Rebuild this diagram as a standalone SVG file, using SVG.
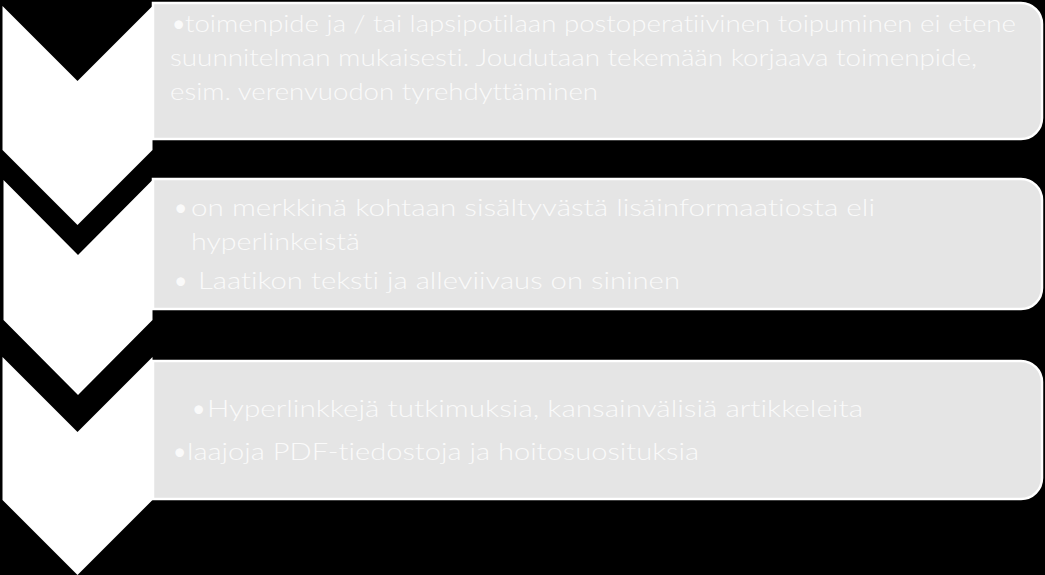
<svg xmlns="http://www.w3.org/2000/svg" width="1045" height="575" viewBox="0 0 1045 575">
  <style>
    .chev { fill: #ffffff; }
    .box { fill: #e5e5e5; stroke: #ffffff; stroke-width: 2.5; }
    .t { font-family: Lato, "Open Sans", "DejaVu Sans", sans-serif; font-weight: 300; fill: #fafafa; font-variant-ligatures: none; font-feature-settings: "liga" 0, "dlig" 0; }
    .b1 { font-size: 22.5px; }
    .b2 { font-size: 24px; }
    .b3 { font-size: 23.5px; }
    .bul { font-size: 23px; font-weight: 400; }
  </style>
  <rect x="0" y="0" width="1045" height="575" fill="#000000"/>

  <g id="step1">
    <path class="box" d="M153,3 H1021 A21,21 0 0 1 1042,24 V118 A21,21 0 0 1 1021,139 H153 Z"/>
    <polygon class="chev" points="2.5,6 77.5,81 152.5,6 152.5,150 77.5,225 2.5,150"/>
    <text class="t bul" x="172" y="32">•</text>
    <text class="t b1" x="185" y="32" textLength="831" lengthAdjust="spacingAndGlyphs">toimenpide ja / tai lapsipotilaan postoperatiivinen toipuminen ei etene</text>
    <text class="t b1" x="170" y="66" textLength="807" lengthAdjust="spacingAndGlyphs">suunnitelman mukaisesti. Joudutaan tekemään korjaava toimenpide,</text>
    <text class="t b1" x="170" y="100" textLength="428" lengthAdjust="spacingAndGlyphs">esim. verenvuodon tyrehdyttäminen</text>
  </g>

  <g id="step2">
    <path class="box" d="M153,179 H1021 A21,21 0 0 1 1042,200 V288 A21,21 0 0 1 1021,309 H153 Z"/>
    <polygon class="chev" points="3.5,180 78,255 152.5,180 152.5,320 78,395 3.5,320"/>
    <text class="t bul" x="174" y="216">•</text>
    <text class="t b2" x="191" y="216" textLength="684" lengthAdjust="spacingAndGlyphs">on merkkinä kohtaan sisältyvästä lisäinformaatiosta eli</text>
    <text class="t b2" x="191" y="250" textLength="169" lengthAdjust="spacingAndGlyphs">hyperlinkeistä</text>
    <text class="t bul" x="174" y="289">•</text>
    <text class="t b2" x="198" y="289" textLength="482" lengthAdjust="spacingAndGlyphs">Laatikon teksti ja alleviivaus on sininen</text>
  </g>

  <g id="step3">
    <path class="box" d="M153,361 H1021 A21,21 0 0 1 1042,382 V478 A21,21 0 0 1 1021,499 H153 Z"/>
    <polygon class="chev" points="2.5,357 77.5,432 152.5,357 152.5,500 77.5,575 2.5,500"/>
    <text class="t bul" x="192" y="417">•</text>
    <text class="t b3" x="207" y="417" textLength="656" lengthAdjust="spacingAndGlyphs">Hyperlinkkejä tutkimuksia, kansainvälisiä artikkeleita</text>
    <text class="t bul" x="173" y="460">•</text>
    <text class="t b3" x="187" y="460" textLength="512" lengthAdjust="spacingAndGlyphs">laajoja PDF-tiedostoja ja hoitosuosituksia</text>
  </g>
</svg>
